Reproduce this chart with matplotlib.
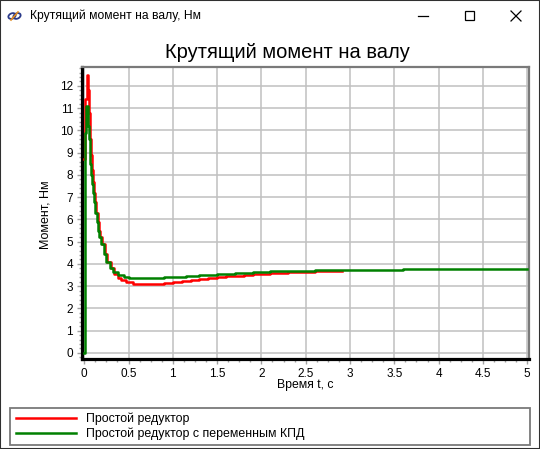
import matplotlib.pyplot as plt
from matplotlib.ticker import MultipleLocator
from matplotlib.patches import Rectangle, Ellipse
from matplotlib.lines import Line2D

plt.rcParams['font.family'] = ['Liberation Sans', 'DejaVu Sans']

# --- data ---
t_simple = [0.0, 0.01, 0.03, 0.045, 0.055, 0.07, 0.08, 0.09, 0.10, 0.11, 0.12,
            0.135, 0.15, 0.165, 0.18, 0.20, 0.23, 0.26, 0.30, 0.34, 0.38, 0.42,
            0.47, 0.55, 0.80, 0.90, 1.0, 1.1, 1.2, 1.3, 1.4, 1.5, 1.6, 1.7, 1.8,
            1.9, 2.0, 2.1, 2.2, 2.3, 2.4, 2.5, 2.6, 2.7, 2.91]
m_simple = [8.7, 11.4, 12.5, 11.8, 10.8, 9.6, 8.9, 8.2, 7.7, 7.2, 6.8,
            6.3, 5.9, 5.5, 5.2, 4.9, 4.45, 4.1, 3.8, 3.55, 3.38, 3.27,
            3.18, 3.12, 3.1, 3.15, 3.2, 3.24, 3.28, 3.32, 3.36, 3.4, 3.44, 3.47, 3.5,
            3.53, 3.56, 3.58, 3.6, 3.62, 3.64, 3.65, 3.67, 3.69, 3.69]

t_var = [0.0, 0.005, 0.025, 0.04, 0.05, 0.06, 0.07, 0.08, 0.09, 0.10, 0.11,
         0.125, 0.14, 0.155, 0.17, 0.19, 0.22, 0.25, 0.29, 0.33, 0.38, 0.45,
         0.50, 0.90, 1.0, 1.15, 1.3, 1.5, 1.7, 1.9, 2.1, 2.3, 2.6, 3.6, 5.0]
m_var = [0.0, 9.9, 11.1, 10.2, 9.6, 8.9, 8.5, 8.0, 7.6, 7.2, 6.8,
         6.3, 5.9, 5.5, 5.2, 4.9, 4.45, 4.1, 3.8, 3.62, 3.5, 3.42,
         3.38, 3.4, 3.43, 3.47, 3.52, 3.56, 3.6, 3.64, 3.67, 3.7, 3.73, 3.78, 3.78]

labels = ["Простой редуктор", "Простой редуктор с переменным КПД"]
colors = ["#ff0000", "#008000"]

W, H = 540, 449
def fx(x): return x / W
def fy(y): return 1 - y / H

fig = plt.figure(figsize=(5.4, 4.49), dpi=100)

# plot area
ax = fig.add_axes([fx(82), fy(358.5), (529 - 82) / W, (358.5 - 67) / H])
ax.plot(t_simple, m_simple, color=colors[0], lw=1.8, drawstyle='steps-post', zorder=3)
ax.plot(t_var, m_var, color=colors[1], lw=1.8, drawstyle='steps-post', zorder=4)

ax.set_xlim(-0.025, 5.02)
ax.set_ylim(-0.25, 12.85)
ax.xaxis.set_minor_locator(MultipleLocator(0.125))
ax.yaxis.set_major_locator(MultipleLocator(1))
ax.yaxis.set_minor_locator(MultipleLocator(0.2))
ax.set_xticks([0, 0.5, 1, 1.5, 2, 2.5, 3, 3.5, 4, 4.5, 5])
ax.set_xticklabels(['0', '0.5', '1', '1.5', '2', '2.5', '3', '3.5', '4', '4.5', '5'])
ax.grid(True, which='major', color='#c0c0c0', lw=1.1, zorder=0)
ax.tick_params(which='both', color='#a0a0a0', width=1, labelsize=8.5)
ax.tick_params(which='major', length=3.5, pad=3)
ax.tick_params(which='minor', length=2.5)
ax.set_axisbelow(True)
for side in ['left', 'bottom']:
    ax.spines[side].set_color('black')
    ax.spines[side].set_linewidth(2.3)
for side in ['top', 'right']:
    ax.spines[side].set_color('#7a7a7a')
    ax.spines[side].set_linewidth(1.6)

fig.text(fx(287), fy(52), "Крутящий момент на валу", fontsize=14.5,
         ha='center', va='center')
fig.text(fx(46), fy(215), "Момент, Нм", fontsize=9, rotation=90,
         ha='center', va='center')
fig.text(fx(305), fy(385), "Время t, с", fontsize=8.8, ha='center', va='center')

# legend box
fig.patches.append(Rectangle((fx(10), fy(445)), fx(530) - fx(10), fy(408) - fy(445),
                             transform=fig.transFigure, fill=False,
                             edgecolor='#7a7a7a', lw=1.3))
for i, (lab, c) in enumerate(zip(labels, colors)):
    yy = 418 + i * 15
    fig.lines.append(Line2D([fx(16), fx(76)], [fy(yy), fy(yy)], color=c, lw=1.8,
                            transform=fig.transFigure))
    fig.text(fx(86), fy(yy + 1), lab, fontsize=8.9, ha='left', va='center')

# window chrome
fig.text(fx(30), fy(16), "Крутящий момент на валу, Нм", fontsize=8.7,
         ha='left', va='center')
fig.patches.append(Ellipse((fx(12), fy(16)), 8 / W, 5 / H, angle=40, fill=False,
                           edgecolor='#2a3a8a', lw=1.3, transform=fig.transFigure))
fig.patches.append(Ellipse((fx(17), fy(16)), 8 / W, 5 / H, angle=40, fill=False,
                           edgecolor='#2a3a8a', lw=1.3, transform=fig.transFigure))
fig.lines.append(Line2D([fx(11), fx(18)], [fy(20), fy(12)], color='#e08a20', lw=1.2,
                        transform=fig.transFigure))
fig.lines.append(Line2D([fx(418), fx(428)], [fy(16), fy(16)], color='black', lw=0.9,
                        transform=fig.transFigure))
fig.patches.append(Rectangle((fx(465), fy(20)), 9 / W, 9 / H, fill=False,
                             edgecolor='black', lw=0.9, transform=fig.transFigure))
fig.lines.append(Line2D([fx(511), fx(521)], [fy(11), fy(21)], color='black', lw=0.9,
                        transform=fig.transFigure))
fig.lines.append(Line2D([fx(511), fx(521)], [fy(21), fy(11)], color='black', lw=0.9,
                        transform=fig.transFigure))
fig.patches.append(Rectangle((0, 0), 1, 1, transform=fig.transFigure, fill=False,
                             edgecolor='#303030', lw=1.5))

fig.savefig("out.png", dpi=100)
